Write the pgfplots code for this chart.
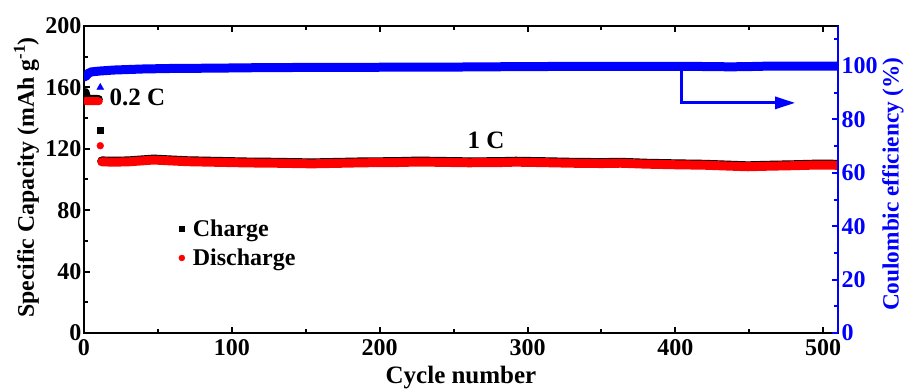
\documentclass[border=0pt]{standalone}
\usepackage{fontspec}
\setmainfont{Liberation Serif}
\usepackage{pgfplots}
\usepackage{pgfplotstable}
\pgfplotsset{compat=1.18}
\usetikzlibrary{arrows.meta}

% 0.2 C cycles
\pgfplotstableread{
x y
1 151.2
3 151.0
5 151.0
7 151.1
9 151.0
10 151.0
}\disA
\pgfplotstableread{
x y
1 157.0
2 153.0
4 152.6
6 152.5
8 152.5
10 152.4
}\chaA
% 1 C discharge
\pgfplotstableread{
x y
12 111.5
20 111.3
30 111.5
40 112.2
47 112.7
55 112.3
70 111.6
90 111.2
110 110.8
130 110.6
154 110.2
170 110.5
190 110.9
210 111.0
226 111.4
240 111.2
260 110.9
280 111.0
292 111.3
310 111.0
330 110.6
350 110.4
363 110.6
380 110.0
400 109.6
420 109.3
440 108.6
449 108.3
460 108.6
480 109.0
495 109.4
505 109.4
510 109.2
}\disB
% 1 C charge
\pgfplotstableread{
x y
12 112.1
20 111.9
30 112.1
40 112.8
47 113.3
55 112.9
70 112.2
90 111.8
110 111.4
130 111.2
154 110.8
170 111.1
190 111.5
210 111.6
226 112.0
240 111.8
260 111.5
280 111.6
292 111.9
310 111.6
330 111.2
350 111.0
363 111.2
380 110.6
400 110.2
420 109.9
440 109.2
449 108.9
460 109.2
480 109.6
495 110.0
505 110.0
510 109.8
}\chaB
% Coulombic efficiency
\pgfplotstableread{
x y
1 96.0
3 97.3
5 97.8
10 98.1
20 98.5
40 98.9
60 99.1
87 99.2
120 99.4
160 99.5
245 99.6
300 99.8
350 99.9
400 99.9
425 99.8
437 99.7
450 99.8
465 100.0
510 100.0
}\ce

\begin{document}
\begin{tikzpicture}
\begin{axis}[
  name=ax, at={(0,0)}, anchor=south west,
  scale only axis, width=754bp, height=307bp,
  xmin=0, xmax=510, ymin=0, ymax=200,
  xtick={0,100,...,500}, minor xtick={50,150,...,450},
  ytick={0,40,...,200}, minor ytick={20,60,...,180},
  tick align=inside, ytick pos=left, xtick pos=both,
  major tick length=6bp, minor tick length=4bp,
  axis line style={line width=2.2bp},
  tick style={black, line width=2bp},
  /pgf/number format/assume math mode=true,
  ticklabel style={font=\fontsize{24bp}{26bp}\selectfont\bfseries},
  xticklabel style={yshift=-3bp},
  yticklabel style={xshift=1bp},
  xlabel={Cycle number},
  xlabel style={at={(axis description cs:0.5,-0.166)}, anchor=base,
    font=\fontsize{25bp}{28bp}\selectfont\bfseries},
  ylabel={Specific Capacity (mAh g\textsuperscript{-1})},
  ylabel style={at={(axis description cs:-0.0763,0.5065)}, anchor=center,
    font=\fontsize{23.8bp}{28bp}\selectfont\bfseries},
  legend style={at={(axis cs:62,76.5)}, anchor=north west, draw=none, fill=none,
    font=\fontsize{24bp}{26bp}\selectfont\bfseries, row sep=7bp,
    nodes={inner xsep=8bp}},
  legend cell align=left,
]
\addlegendimage{only marks, mark=square*, black, mark size=2.4bp}
\addlegendentry{Charge}
\addlegendimage{only marks, mark=*, red, mark size=3bp}
\addlegendentry{Discharge}

\addplot[black, line width=8bp, line cap=round, forget plot] table {\chaA};
\addplot[red, line width=8bp, line cap=round, forget plot] table {\disA};
\addplot[black, line width=9bp, line cap=round, forget plot] table {\chaB};
\addplot[red, line width=9bp, line cap=round, forget plot] table {\disB};
\addplot[only marks, mark=square*, black, mark size=2.8bp, forget plot] coordinates {(11,132)};
\addplot[only marks, mark=*, red, mark size=3.4bp, forget plot] coordinates {(11,122)};

\node[font=\fontsize{25bp}{28bp}\selectfont\bfseries, anchor=west] at (axis cs:15,153.5) {0.2 C};
\node[font=\fontsize{25bp}{28bp}\selectfont\bfseries] at (axis cs:272,125.5) {1 C};
\end{axis}

\begin{axis}[
  at={(0,0)}, anchor=south west,
  scale only axis, width=754bp, height=307bp,
  xmin=0, xmax=510, ymin=0, ymax=115,
  axis x line=none, axis y line*=right,
  ytick={0,20,...,100}, minor ytick={10,30,...,110},
  tick align=inside,
  major tick length=6bp, minor tick length=4bp,
  y axis line style={blue, line width=2.2bp, -},
  tick style={blue, line width=2bp},
  /pgf/number format/assume math mode=true,
  yticklabel style={blue, font=\fontsize{24bp}{26bp}\selectfont\bfseries, xshift=0bp},
  ylabel={Coulombic efficiency (\%)},
  ylabel style={blue, at={(axis description cs:1.073,0.485)}, anchor=center,
    font=\fontsize{23.3bp}{28bp}\selectfont\bfseries},
]
\addplot[blue, line width=9bp, line cap=round] table {\ce};
\addplot[only marks, mark=triangle*, blue, mark size=4bp] coordinates {(11,92)};
\draw[blue, line width=2.8bp, -{Triangle[length=20bp, width=12bp]}]
  (axis cs:404,100) -- (axis cs:404,86.2) -- (axis cs:481,86.2);
\end{axis}
\pgfresetboundingbox
\path (-84bp,-57bp) rectangle (823bp,333bp);
\end{tikzpicture}
\end{document}
